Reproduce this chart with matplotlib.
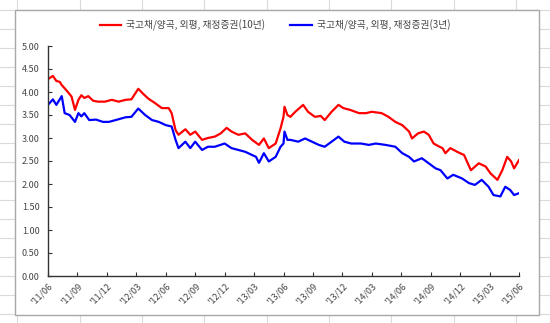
import matplotlib
matplotlib.use('Agg')
import matplotlib.pyplot as plt
from matplotlib.lines import Line2D
from matplotlib.patches import Rectangle

plt.rcParams['font.family'] = ['Noto Sans CJK KR', 'DejaVu Sans']

# months since 2011/06 and yields (%)
months_10y = [0, 0.5, 0.85, 1.2, 1.4, 1.7, 2.1, 2.4, 2.75, 3.1, 3.4, 3.7, 4.1, 4.6, 5.1, 5.8,
              6.5, 7.2, 7.9, 8.5, 9.2, 9.7, 10.2, 10.9, 11.6, 12.3, 12.6, 13.0, 13.3, 14.0,
              14.5, 15.0, 15.7, 16.3, 17.0, 17.6, 18.2, 18.7, 19.4, 20.1, 20.8, 21.5, 22.0,
              22.5, 23.2, 23.7, 24.0, 24.1, 24.4, 24.7, 25.2, 26.0, 26.5, 27.2, 27.8, 28.2,
              28.9, 29.6, 30.1, 30.8, 31.7, 32.4, 33.0, 34.0, 34.7, 35.4, 36.1, 36.8, 37.1,
              37.7, 38.3, 38.8, 39.3, 39.9, 40.2, 40.5, 41.0, 41.7, 42.4, 43.1, 43.9, 44.6,
              45.1, 45.8, 46.3, 46.8, 47.2, 47.5, 48.0]
yield_10y = [4.28, 4.35, 4.24, 4.22, 4.15, 4.08, 3.98, 3.90, 3.61, 3.83, 3.93, 3.87, 3.91, 3.81,
             3.79, 3.79, 3.83, 3.79, 3.83, 3.84, 4.07, 3.96, 3.86, 3.76, 3.65, 3.65, 3.54, 3.17,
             3.07, 3.19, 3.07, 3.14, 2.96, 3.00, 3.03, 3.10, 3.22, 3.14, 3.07, 3.10, 2.96, 2.85,
             2.99, 2.78, 2.88, 3.21, 3.46, 3.68, 3.50, 3.46, 3.57, 3.72, 3.57, 3.46, 3.48, 3.39,
             3.57, 3.72, 3.65, 3.61, 3.54, 3.54, 3.57, 3.54, 3.46, 3.35, 3.28, 3.14, 2.99, 3.10,
             3.14, 3.07, 2.88, 2.81, 2.78, 2.67, 2.78, 2.70, 2.63, 2.30, 2.45, 2.38, 2.23, 2.09,
             2.30, 2.59, 2.49, 2.34, 2.52]

months_3y = [0, 0.5, 0.85, 1.4, 1.7, 2.2, 2.75, 3.1, 3.4, 3.7, 4.2, 4.9, 5.6, 6.2, 6.9, 7.9,
             8.5, 9.2, 9.9, 10.6, 11.3, 12.0, 12.6, 13.0, 13.3, 14.0, 14.5, 15.0, 15.7, 16.3,
             17.0, 18.0, 18.7, 19.4, 20.1, 21.2, 21.5, 22.0, 22.5, 23.2, 23.7, 24.0, 24.1, 24.4,
             24.7, 25.5, 26.2, 26.9, 27.6, 28.2, 28.9, 29.6, 30.2, 30.9, 31.9, 32.7, 33.4, 34.4,
             35.4, 36.1, 36.8, 37.3, 38.1, 38.8, 39.5, 40.0, 40.7, 41.3, 42.2, 42.9, 43.5, 44.2,
             44.9, 45.4, 46.1, 46.6, 47.1, 47.5, 48.0]
yield_3y = [3.72, 3.84, 3.72, 3.91, 3.54, 3.50, 3.35, 3.54, 3.47, 3.54, 3.39, 3.40, 3.35, 3.35,
            3.39, 3.45, 3.46, 3.64, 3.50, 3.39, 3.35, 3.28, 3.25, 2.96, 2.78, 2.92, 2.78, 2.92,
            2.74, 2.81, 2.81, 2.88, 2.78, 2.74, 2.70, 2.59, 2.46, 2.67, 2.49, 2.59, 2.81, 2.88,
            3.14, 2.96, 2.96, 2.92, 2.99, 2.92, 2.85, 2.81, 2.92, 3.03, 2.92, 2.88, 2.88, 2.85,
            2.88, 2.85, 2.81, 2.67, 2.59, 2.49, 2.56, 2.45, 2.34, 2.30, 2.12, 2.20, 2.12, 2.02,
            1.98, 2.09, 1.94, 1.76, 1.73, 1.94, 1.87, 1.76, 1.80]

tick_months = list(range(0, 49, 3))
tick_labels = ["'11/06", "'11/09", "'11/12", "'12/03", "'12/06", "'12/09", "'12/12", "'13/03",
               "'13/06", "'13/09", "'13/12", "'14/03", "'14/06", "'14/09", "'14/12", "'15/03",
               "'15/06"]
y_ticks = [0, 0.5, 1.0, 1.5, 2.0, 2.5, 3.0, 3.5, 4.0, 4.5, 5.0]

label_10y = '국고채/양곡, 외평, 재정증권(10년)'
label_3y = '국고채/양곡, 외평, 재정증권(3년)'

W, H = 550, 323
fig = plt.figure(figsize=(W / 100, H / 100), dpi=100)

# spreadsheet grid behind the chart
grid_c = '#dadada'
for gx in [17, 80, 142, 204, 267, 329, 391, 454, 516]:
    fig.add_artist(Line2D([gx / W, gx / W], [0, 1], color=grid_c, lw=0.8, zorder=0))
for gy in range(10, 323, 19):
    fig.add_artist(Line2D([0, 1], [1 - gy / H, 1 - gy / H], color=grid_c, lw=0.8, zorder=0))

# chart frame
fig.add_artist(Rectangle((15 / W, 1 - 315 / H), (539 - 15) / W, (315 - 10) / H,
                         facecolor='white', edgecolor='#a8a8a8', lw=1.0, zorder=1))

ax = fig.add_axes([48 / W, 1 - 276 / H, (519 - 48) / W, (276 - 46) / H], zorder=2)
ax.patch.set_alpha(0)

ax.plot(months_10y, yield_10y, color='#ff0000', lw=1.6, label=label_10y)
ax.plot(months_3y, yield_3y, color='#0000ff', lw=1.6, label=label_3y)

ax.set_xlim(0, 48)
ax.set_ylim(0, 5)
ax.set_xticks(tick_months)
ax.set_xticklabels(tick_labels, rotation=45, ha='right', rotation_mode='anchor')
ax.set_yticks(y_ticks)
ax.set_yticklabels([f'{v:.2f}' for v in y_ticks])
ax.tick_params(axis='both', direction='in', length=3, width=0.8, labelsize=6.5,
               labelcolor='#444444', color='#333333')
ax.tick_params(axis='y', pad=6)
ax.tick_params(axis='x', pad=4)
for s in ['top', 'right']:
    ax.spines[s].set_visible(False)
for s in ['left', 'bottom']:
    ax.spines[s].set_color('#333333')
    ax.spines[s].set_linewidth(1.0)

fig.legend(loc='center', bbox_to_anchor=(0.5, 1 - 25 / H), ncol=2, frameon=False,
           fontsize=7, handlelength=2.2, columnspacing=2.6, handletextpad=0.5,
           labelcolor='#444444')

fig.savefig('out.png', dpi=100)
